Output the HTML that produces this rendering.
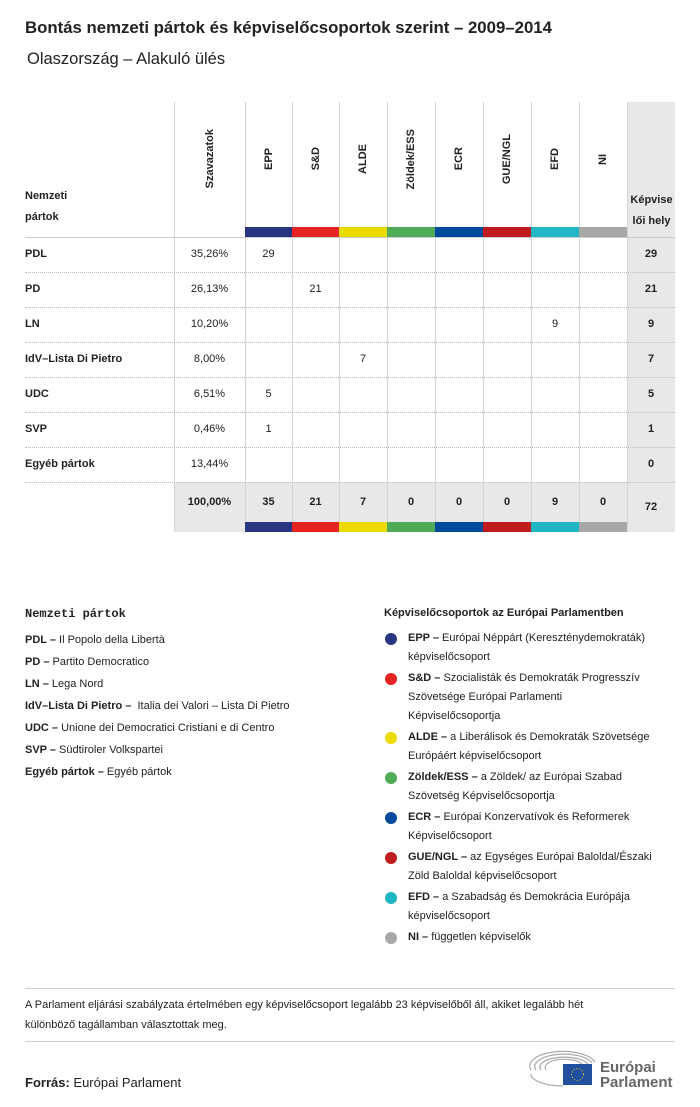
<!DOCTYPE html>
<html><head><meta charset="utf-8">
<style>
body{margin:0;width:700px;height:1107px;background:#fff;font-family:"Liberation Sans",sans-serif;color:#222;position:relative;overflow:hidden}
.a{position:absolute}
.t{font-size:12px}
.b{font-weight:bold}
.vl{position:absolute;width:1px;background:#d4d4d4}
.hl{position:absolute;left:25px;width:650px;border-top:1px dotted #bbb;height:0}
.rotbox{position:absolute;top:102px;height:114px;display:flex;align-items:center;justify-content:center}
.rotbox span{writing-mode:vertical-rl;transform:rotate(180deg);font-size:11px;font-weight:bold;white-space:nowrap}
.c{position:absolute;font-size:11px;text-align:center}
.leg{position:absolute;font-size:11px;line-height:20px;white-space:nowrap}
.dot{position:absolute;width:12px;height:12px;border-radius:50%}
</style></head><body>
<div class="a b" style="left:25px;top:18px;font-size:16.8px">Bontás nemzeti pártok és képviselőcsoportok szerint – 2009–2014</div>
<div class="a" style="left:27px;top:50px;font-size:16.5px">Olaszország – Alakuló ülés</div>

<div id="tbl"></div>

<div class="a b" style="left:25px;top:607px;font-size:12px;font-family:'Liberation Mono',monospace">Nemzeti pártok</div>
<div class="leg" style="left:25px;top:629px;line-height:22px">
<div><b>PDL –</b> Il Popolo della Libertà</div>
<div><b>PD –</b> Partito Democratico</div>
<div><b>LN –</b> Lega Nord</div>
<div><b>IdV–Lista Di Pietro –</b>&nbsp; Italia dei Valori – Lista Di Pietro</div>
<div><b>UDC –</b> Unione dei Democratici Cristiani e di Centro</div>
<div><b>SVP –</b> Südtiroler Volkspartei</div>
<div><b>Egyéb pártok –</b> Egyéb pártok</div>
</div>
<div class="a b" style="left:384px;top:607px;font-size:11px">Képviselőcsoportok az Európai Parlamentben</div>
<div id="glegend"></div>

<div class="a" style="left:25px;top:988px;width:650px;border-top:1px solid #ccc"></div>
<div class="a" style="left:25px;top:995px;width:650px;font-size:11px;line-height:20px;white-space:nowrap">A Parlament eljárási szabályzata értelmében egy képviselőcsoport legalább 23 képviselőből áll, akiket legalább hét<br>különböző tagállamban választottak meg.</div>
<div class="a" style="left:25px;top:1041px;width:650px;border-top:1px solid #ccc"></div>
<div class="a" style="left:25px;top:1075px;font-size:13px"><b>Forrás:</b> Európai Parlament</div>
<svg class="a" style="left:528px;top:1050px" width="150" height="40">
<g fill="none" stroke="#aaa" stroke-width="1.2"><path d="M3 20 A32 14 0 0 1 67 12"/><path d="M8 20 A26 11 0 0 1 64 13"/><path d="M13 20 A20 8 0 0 1 60 14"/><path d="M18 20 A14 6 0 0 1 55 15"/><path d="M3 24 A32 12 0 0 0 35 36"/></g>
<rect x="35" y="14" width="29" height="21" fill="#1f4f9e"/><circle cx="49.5" cy="24.5" r="6" fill="none" stroke="#f3d41b" stroke-dasharray="1 2"/>
<text x="72" y="22" font-size="15" font-weight="bold" fill="#666" font-family="Liberation Sans">Európai</text>
<text x="72" y="37" font-size="15" font-weight="bold" fill="#666" font-family="Liberation Sans">Parlament</text>
</svg>

<script>
const groups=["EPP","S&D","ALDE","Zöldek/ESS","ECR","GUE/NGL","EFD","NI"];
const groupColors=["#283580","#e52421","#ecdb00","#4fab58","#004a9c","#c01b1e","#20b6c3","#a7a7a7"];
const parties=["PDL","PD","LN","IdV–Lista Di Pietro","UDC","SVP","Egyéb pártok"];
const votes=["35,26%","26,13%","10,20%","8,00%","6,51%","0,46%","13,44%"];
const seats=[[29,0,0,0,0,0,0,0],[0,21,0,0,0,0,0,0],[0,0,0,0,0,0,9,0],[0,0,7,0,0,0,0,0],[5,0,0,0,0,0,0,0],[1,0,0,0,0,0,0,0],[0,0,0,0,0,0,0,0]];
const totalVotes="100,00%";
const legendTexts=[["EPP –","Európai Néppárt (Kereszténydemokraták)|képviselőcsoport"],["S&D –","Szocialisták és Demokraták Progresszív|Szövetsége Európai Parlamenti|Képviselőcsoportja"],["ALDE –","a Liberálisok és Demokraták Szövetsége|Európáért képviselőcsoport"],["Zöldek/ESS –","a Zöldek/ az Európai Szabad|Szövetség Képviselőcsoportja"],["ECR –","Európai Konzervatívok és Reformerek|Képviselőcsoport"],["GUE/NGL –","az Egységes Európai Baloldal/Északi|Zöld Baloldal képviselőcsoport"],["EFD –","a Szabadság és Demokrácia Európája|képviselőcsoport"],["NI –","független képviselők"]];

const T=document.getElementById('tbl');
function add(html,name){const d=document.createElement('div');d.innerHTML=html;const e=d.firstChild;


T.appendChild(e);return e;}
const colX=[245,292,339,387,435,483,531,579,627];
const top0=102,hdrB=237,rowH=35,totB=482,end=532;
add(`<div class="a" style="left:627px;top:${top0}px;width:48px;height:${end-top0}px;background:#e8e8e8"></div>`,'total-seats-column-bg');
add(`<div class="a" style="left:174px;top:${totB}px;width:453px;height:${end-totB}px;background:#e8e8e8"></div>`,'totals-row-bg');
add(`<div class="vl" style="left:174px;top:${top0}px;height:${end-top0}px"></div>`,'votes-divider');
colX.forEach((x,i)=>add(`<div class="vl" style="left:${x}px;top:${top0}px;height:${end-top0}px"></div>`,'column-divider-'+i));
add(`<div class="a" style="left:25px;top:${hdrB}px;width:650px;border-top:1px solid #ccc"></div>`,'header-rule');
add(`<div class="a b t" style="left:25px;top:186px;font-size:11px;line-height:21px">Nemzeti<br>pártok</div>`,'national-parties-header');
add(`<div class="a b" style="left:628px;top:190px;width:47px;text-align:center;font-size:11px;line-height:21px">Képvise<br>lői hely</div>`,'seats-header');
add(`<div class="rotbox" style="left:174px;width:71px"><span>Szavazatok</span></div>`,'votes-header');
groups.forEach((g,i)=>{
  const x=colX[i],w=colX[i+1]-x;
  add(`<div class="rotbox" style="left:${x}px;width:${w}px"><span>${g.replace('&','&amp;')}</span></div>`,'group-header-'+i);
  add(`<div class="a" style="left:${x}px;top:227px;width:${w}px;height:10px;background:${groupColors[i]}"></div>`,'group-color-top-'+i);
  add(`<div class="a" style="left:${x}px;top:522px;width:${w}px;height:10px;background:${groupColors[i]}"></div>`,'group-color-bottom-'+i);
});
parties.forEach((p,r)=>{
  const y=hdrB+r*rowH;
  if(r>0)add(`<div class="hl" style="top:${y}px"></div>`,'row-divider-'+r);
  add(`<div class="a b" style="left:25px;top:${y+11}px;font-size:11px">${p}</div>`,'party-label-'+r);
  add(`<div class="c" style="left:174px;width:71px;top:${y+11}px">${votes[r]}</div>`,'votes-'+r);
  let sum=0;
  seats[r].forEach((v,i)=>{sum+=v;if(v)add(`<div class="c" style="left:${colX[i]}px;width:${colX[i+1]-colX[i]}px;top:${y+11}px">${v}</div>`,'seat-cell-'+r+'-'+i);});
  add(`<div class="c b" style="left:627px;width:48px;top:${y+11}px">${sum}</div>`,'party-total-'+r);
});
add(`<div class="hl" style="top:${totB}px"></div>`,'totals-divider');
add(`<div class="c b" style="left:174px;width:71px;top:496px">${totalVotes}</div>`,'total-votes');
let grand=0;
groups.forEach((g,i)=>{let s=0;seats.forEach(r=>s+=r[i]);grand+=s;
  add(`<div class="c b" style="left:${colX[i]}px;width:${colX[i+1]-colX[i]}px;top:496px">${s}</div>`,'group-total-'+i);});
add(`<div class="c b" style="left:627px;width:48px;top:501px">${grand}</div>`,'grand-total');

const G=document.getElementById('glegend');
let y=630;
legendTexts.forEach((t,i)=>{
  const lines=t[1].split('|');
  const d=document.createElement('div');d.className='dot';d.style.cssText=`left:385px;top:${y+3}px;background:${groupColors[i]}`;
  
  
  G.appendChild(d);
  const e=document.createElement('div');e.className='leg';e.style.cssText=`left:408px;top:${y-1}px;line-height:19px`;
  e.innerHTML=`<b>${t[0].replace('&','&amp;')}</b> ${lines.join('<br>')}`;
  
  
  G.appendChild(e);
  y+=lines.length*19+2;
});
</script>
</body></html>
